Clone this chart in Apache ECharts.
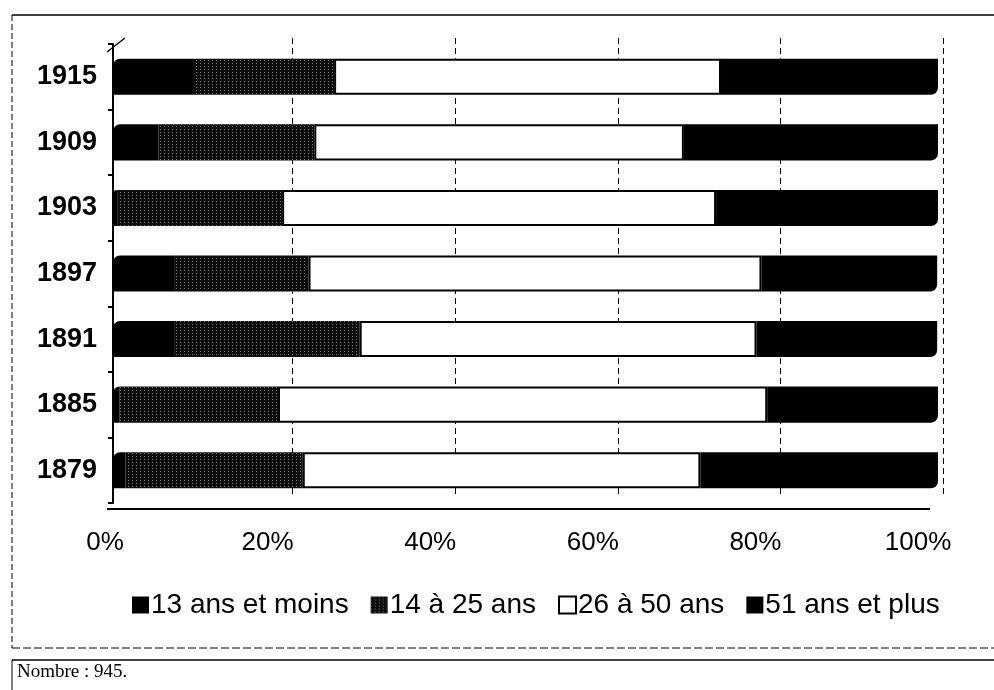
<!DOCTYPE html>
<html>
<head>
<meta charset="utf-8">
<script src="https://cdn.jsdelivr.net/npm/echarts@6/dist/echarts.min.js"></script>
<style>
html,body{margin:0;padding:0;background:#fff;}
#c{width:994px;height:690px;}
</style>
</head>
<body>
<div id="c"></div>
<script>
// Data (bottom to top on the category axis)
const years = ['1879', '1885', '1891', '1897', '1903', '1909', '1915'];
const seriesNames = ['13 ans et moins', '14 à 25 ans', '26 à 50 ans', '51 ans et plus'];
const age13 = [1.5, 0.8, 7.5, 7.5, 0.5, 5.5, 9.7];
const age14_25 = [21.5, 19.2, 22.4, 16.2, 20.0, 18.9, 17.1];
const age26_50 = [48.2, 59.3, 48.1, 54.9, 52.6, 44.8, 46.9];
const age51 = [28.8, 20.7, 21.9, 21.3, 26.9, 30.8, 26.3];
const xTicks = [0, 20, 40, 60, 80, 100];
const footnote = 'Nombre : 945.';

const FONT = '"Liberation Sans", Arial, sans-serif';
const chart = echarts.init(document.getElementById('c'), null, {renderer: 'canvas'});

const barW = '55%';
const option = {
  animation: false,
  backgroundColor: '#fff',
  textStyle: {fontFamily: FONT, color: '#000'},
  grid: [
    {left: 130, right: 51, top: 38, bottom: 195, show: false},
    {left: 113, right: 56, top: 44, bottom: 187, show: false},
    {left: 105, right: 76, top: 44, bottom: 187, show: false}
  ],
  xAxis: [
    {gridIndex: 0, type: 'value', min: 0, max: 100, interval: 20,
     axisLine: {show: false}, axisTick: {show: false}, axisLabel: {show: false},
     splitLine: {show: true, showMinLine: false, lineStyle: {color: '#000', type: [6, 4], width: 1}}},
    {gridIndex: 1, type: 'value', min: 0, max: 100, interval: 20, offset: 6,
     axisLine: {show: false}, axisTick: {show: false}, axisLabel: {show: false},
     splitLine: {show: false}},
    {gridIndex: 2, type: 'value', min: 0, max: 100, interval: 20, offset: 6,
     axisLine: {show: false},
     axisTick: {show: false},
     splitLine: {show: false},
     axisLabel: {margin: 21, fontSize: 26, fontFamily: FONT, color: '#000',
       formatter: v => xTicks.includes(v) ? v + '%' : ''}}
  ],
  yAxis: [
    {gridIndex: 0, type: 'category', data: years, show: false},
    {gridIndex: 1, type: 'category', data: years, offset: 6,
     axisLine: {show: true, lineStyle: {color: '#000', width: 2}},
     axisTick: {show: true, length: 5, inside: false, lineStyle: {color: '#000', width: 2}},
     axisLabel: {margin: 10, fontSize: 27, fontWeight: 'bold', fontFamily: FONT, color: '#000'}},
    {gridIndex: 2, type: 'category', data: years, show: false}
  ],
  legend: {
    bottom: 66, left: 127,
    itemWidth: 17, itemHeight: 17, itemGap: 22,
    icon: 'rect',
    textStyle: {fontSize: 28, fontFamily: FONT, color: '#000', padding: [0, 0, 0, -3]},
    data: seriesNames
  },
  series: [
    {name: seriesNames[0], type: 'bar', stack: 'a', xAxisIndex: 1, yAxisIndex: 1, barWidth: barW,
     data: age13, itemStyle: {color: '#000', borderRadius: [7, 0, 0, 0]}},
    {name: seriesNames[1], type: 'bar', stack: 'a', xAxisIndex: 1, yAxisIndex: 1, barWidth: barW,
     data: age14_25, itemStyle: {color: '#0d0d0d',
       decal: {symbol: 'rect', symbolSize: 1, color: 'rgba(125,125,125,1)', dashArrayX: [1, 3], dashArrayY: [1, 2], rotation: 0}}},
    {name: seriesNames[2], type: 'bar', stack: 'a', xAxisIndex: 1, yAxisIndex: 1, barWidth: barW,
     data: age26_50, itemStyle: {color: '#fff', borderColor: '#000', borderWidth: 2}},
    {name: seriesNames[3], type: 'bar', stack: 'a', xAxisIndex: 1, yAxisIndex: 1, barWidth: barW,
     data: age51, itemStyle: {color: '#000', borderRadius: [0, 0, 7, 0]}}
  ],
  graphic: [
    // outer chart frame
    {type: 'line', shape: {x1: 12, y1: 15, x2: 994, y2: 15}, style: {stroke: '#000', lineWidth: 1.5}, silent: true},
    {type: 'line', shape: {x1: 12, y1: 15, x2: 12, y2: 648}, style: {stroke: '#000', lineWidth: 1, lineDash: [6, 3]}, silent: true},
    {type: 'line', shape: {x1: 12, y1: 648, x2: 994, y2: 648}, style: {stroke: '#000', lineWidth: 1, lineDash: [8, 3]}, silent: true},
    // footnote box
    {type: 'line', shape: {x1: 12, y1: 660, x2: 994, y2: 660}, style: {stroke: '#000', lineWidth: 1.5}, silent: true},
    {type: 'line', shape: {x1: 12, y1: 660, x2: 12, y2: 690}, style: {stroke: '#000', lineWidth: 1}, silent: true},
    {type: 'text', left: 17, top: 663, style: {text: footnote, font: '19px "Liberation Serif", "Times New Roman", serif', fill: '#000'}, silent: true},
    // 3D floor/axis lines
    {type: 'line', shape: {x1: 107, y1: 509, x2: 930, y2: 509}, style: {stroke: '#000', lineWidth: 2}, silent: true},
    {type: 'line', shape: {x1: 107, y1: 52, x2: 125, y2: 38}, style: {stroke: '#000', lineWidth: 1.5}, silent: true}
  ]
};
chart.setOption(option);
</script>
</body>
</html>
